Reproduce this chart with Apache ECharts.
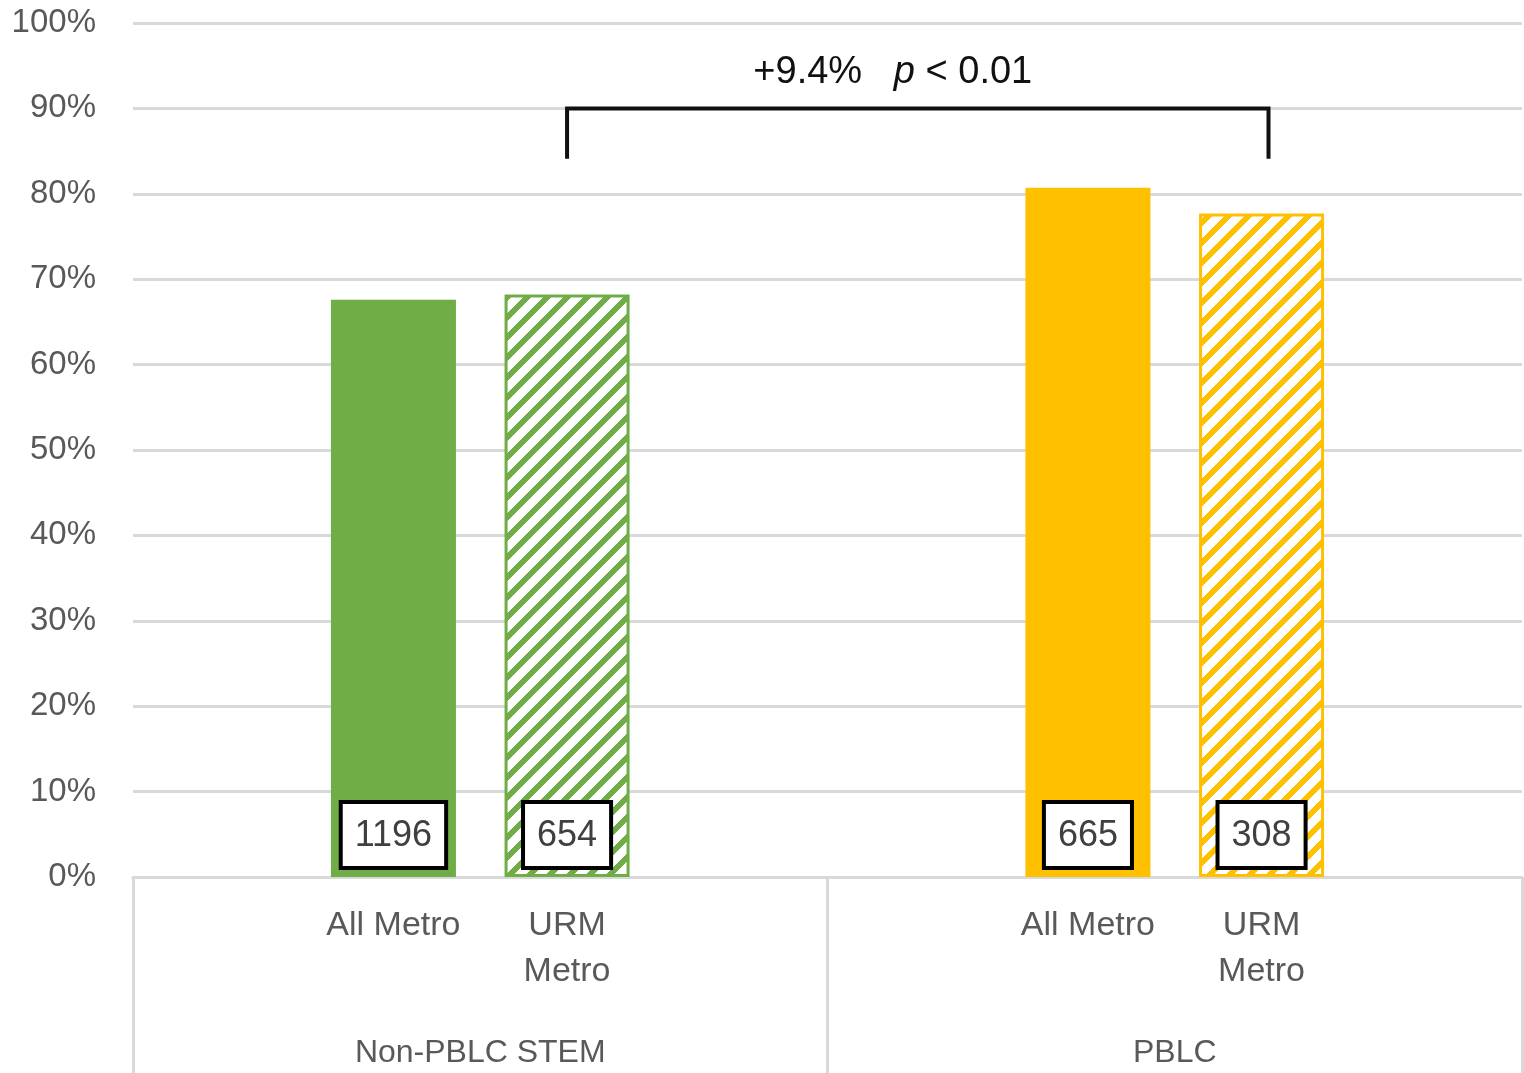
<!DOCTYPE html>
<html>
<head>
<meta charset="utf-8">
<script src="https://cdn.jsdelivr.net/npm/echarts@6/dist/echarts.min.js"></script>
<style>
  html, body { margin: 0; padding: 0; background: #fff; }
  #chart { width: 1524px; height: 1073px; }
</style>
</head>
<body>
<div id="chart"></div>
<script>
// ---- data ----
const groups = ['Non-PBLC STEM', 'PBLC'];
const subLabels = ['', 'All Metro', 'URM\nMetro', '', '', 'All Metro', 'URM\nMetro', ''];
const rates = ['-', 67.6, 68.2, '-', '-', 80.7, 77.7, '-'];
const counts = ['', 1196, 654, '', '', 665, 308, ''];
const yTickValues = [0, 10, 20, 30, 40, 50, 60, 70, 80, 90, 100];
const bracket = [[2, 6, 90, 84.1]];
const annotation = ['+9.4%', 'p', '< 0.01'];

// ---- styles ----
const FONT = "'Liberation Sans', Arial, sans-serif";
const groupColors = ['#70AD47', '#FFC000'];
const GRID_COLOR = '#d9d9d9';
const LABEL_COLOR = '#595959';

function hatch(color) {
  const s = 20, w = 8;
  const c = document.createElement('canvas');
  c.width = s; c.height = s;
  const ctx = c.getContext('2d');
  ctx.fillStyle = '#ffffff';
  ctx.fillRect(0, 0, s, s);
  ctx.fillStyle = color;
  // crisp pixel staircase "/" stripes
  for (let y = 0; y < s; y++) {
    for (let x = 0; x < s; x++) {
      if ((x + y) % s < w) ctx.fillRect(x, y, 1, 1);
    }
  }
  return c;
}

const perGroup = subLabels.length / groups.length;
const barData = rates.map((v, i) => {
  const color = groupColors[Math.floor(i / perGroup)];
  const hatched = subLabels[i].indexOf('URM') === 0;
  return {
    value: v,
    itemStyle: hatched
      ? { color: { image: hatch(color), repeat: 'repeat' }, borderColor: color, borderWidth: 3 }
      : { color: color }
  };
});

const chart = echarts.init(document.getElementById('chart'), null, { renderer: 'canvas' });

chart.setOption({
  animation: false,
  backgroundColor: '#ffffff',
  grid: { left: 133, right: 2, top: 23, bottom: 196, containLabel: false },
  xAxis: [
    {
      type: 'category',
      data: subLabels,
      position: 'bottom',
      axisLine: { show: true, lineStyle: { color: GRID_COLOR, width: 3 } },
      axisTick: { show: false },
      axisLabel: {
        interval: 0, margin: 26, color: LABEL_COLOR, fontFamily: FONT,
        fontSize: 34, lineHeight: 46
      }
    },
    {
      type: 'category',
      data: groups,
      position: 'bottom',
      axisLine: { show: false },
      axisTick: { show: true, length: 196, lineStyle: { color: GRID_COLOR, width: 3 } },
      axisLabel: {
        interval: 0, margin: 160, color: LABEL_COLOR, fontFamily: FONT,
        fontSize: 32, lineHeight: 32
      }
    }
  ],
  yAxis: {
    type: 'value',
    min: yTickValues[0],
    max: yTickValues[yTickValues.length - 1],
    interval: yTickValues[1] - yTickValues[0],
    axisLine: { show: false },
    axisTick: { show: false },
    splitLine: { show: true, lineStyle: { color: GRID_COLOR, width: 3 } },
    axisLabel: {
      formatter: '{value}%', margin: 37, color: LABEL_COLOR,
      fontFamily: FONT, fontSize: 33
    }
  },
  series: [
    {
      type: 'bar',
      xAxisIndex: 0,
      data: barData,
      barWidth: '72%',
      silent: true,
      label: {
        show: true,
        position: 'insideBottom',
        distance: 11,
        formatter: p => String(counts[p.dataIndex]),
        color: '#404040',
        fontFamily: FONT,
        fontSize: 36,
        lineHeight: 36,
        backgroundColor: '#ffffff',
        borderColor: '#000000',
        borderWidth: 4,
        padding: [14, 12, 12, 12]
      }
    },
    {
      type: 'custom',
      xAxisIndex: 0,
      data: bracket,
      silent: true,
      clip: false,
      z: 10,
      renderItem: function (params, api) {
        const top = api.value(2), bottom = api.value(3);
        const band = api.size([1, 0])[0];
        const pL = api.coord([api.value(0), top]);
        const pR = api.coord([api.value(1), top]);
        const yb = api.coord([api.value(0), bottom])[1];
        const xl = pL[0], xr = pR[0] + band * 0.04, yt = pL[1];
        return {
          type: 'group',
          children: [
            {
              type: 'polyline',
              shape: { points: [[xl, yb], [xl, yt], [xr, yt], [xr, yb]] },
              style: { stroke: '#111111', lineWidth: 4, fill: null }
            },
            {
              type: 'text',
              x: (xl + xr) / 2 - 25,
              y: yt - 36,
              style: {
                text: '{a|' + annotation[0] + '   }{b|' + annotation[1] + '}{a| ' + annotation[2] + '}',
                align: 'center',
                verticalAlign: 'middle',
                rich: {
                  a: { fontFamily: FONT, fontSize: 38, fill: '#111111' },
                  b: { fontFamily: FONT, fontSize: 38, fontStyle: 'italic', fill: '#111111' }
                }
              }
            }
          ]
        };
      }
    }
  ]
});
</script>
</body>
</html>
